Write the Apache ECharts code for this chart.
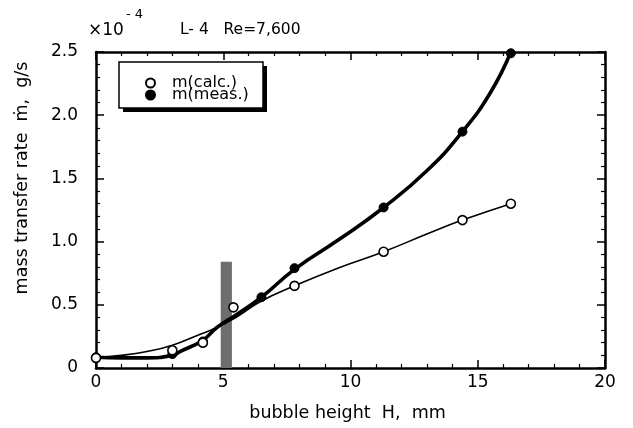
<!DOCTYPE html>
<html>
<head>
<meta charset="utf-8">
<script src="https://cdn.jsdelivr.net/npm/echarts@6/dist/echarts.min.js"></script>
<style>
html,body{margin:0;padding:0;background:#fff;}
#c{width:633px;height:428px;}
</style>
</head>
<body>
<div id="c"></div>
<script>
// ---- data ----
var calcH = [0, 3.0, 4.2, 5.4, 7.8, 11.3, 14.4, 16.3];
var calcM = [0.08, 0.14, 0.20, 0.48, 0.65, 0.92, 1.17, 1.30];
var measH = [0, 3.0, 4.2, 6.5, 7.8, 11.3, 14.4, 16.3];
var measM = [0.085, 0.11, 0.21, 0.56, 0.79, 1.27, 1.87, 2.49];
// hand-drawn fit curves as seen on the picture
var calcFitH = [0, 1, 2, 3, 4, 4.75, 5.5, 6.5, 7.8, 9.5, 11.3, 13, 14.4, 16.3];
var calcFitM = [0.085, 0.10, 0.13, 0.18, 0.26, 0.32, 0.40, 0.53, 0.65, 0.79, 0.92, 1.06, 1.17, 1.30];
var measFitH = [0, 1, 2, 3, 3.3, 4.2, 4.75, 5.5, 6.5, 7.8, 9.5, 11.3, 13, 14.4, 15.5, 16.3];
var measFitM = [0.085, 0.08, 0.08, 0.10, 0.13, 0.22, 0.32, 0.42, 0.56, 0.78, 1.01, 1.27, 1.56, 1.87, 2.18, 2.50];
// shaded band near H = 5 mm
var bandH = [4.9, 5.34];
var bandTop = 0.84;
var xTickLabels = ['0', '5', '10', '15', '20'];
var yTickLabels = ['0', '0.5', '1.0', '1.5', '2.0', '2.5'];
var seriesNames = ['m(calc.)', 'm(meas.)'];

function zip(a, b) { return a.map(function (v, i) { return [v, b[i]]; }); }

var FONT = 'DejaVu Sans';
var chart = echarts.init(document.getElementById('c'), null, {renderer: 'canvas'});

function axisCommon(showLabel, isX, pos) {
  return {
    type: 'value',
    position: pos,
    min: 0,
    max: isX ? 20 : 2.5,
    interval: isX ? 5 : 0.5,
    axisLine: {show: true, onZero: false, lineStyle: {color: '#000', width: 2.5}},
    axisTick: {show: true, inside: true, length: 8, lineStyle: {color: '#000', width: 1.5}},
    minorTick: {show: true, splitNumber: 5, length: 4, lineStyle: {color: '#000', width: 1.2}},
    splitLine: {show: false},
    minorSplitLine: {show: false},
    axisLabel: {
      show: showLabel,
      color: '#000',
      fontFamily: FONT,
      fontSize: 17,
      margin: isX ? 6 : 18,
      formatter: function (v) {
        var idx = Math.round(v / (isX ? 5 : 0.5));
        return (isX ? xTickLabels : yTickLabels)[idx];
      }
    }
  };
}

var xBottom = axisCommon(true, true, 'bottom');
xBottom.name = 'bubble height  H,  mm';
xBottom.nameLocation = 'middle';
xBottom.nameGap = 36;
xBottom.nameTextStyle = {color: '#000', fontFamily: FONT, fontSize: 17.5, padding: [0, 6, 0, 0]};
var xTop = axisCommon(false, true, 'top');
var yLeft = axisCommon(true, false, 'left');
var yRight = axisCommon(false, false, 'right');

var option = {
  animation: false,
  backgroundColor: '#fff',
  grid: {left: 96, right: 28, top: 52, bottom: 60, containLabel: false},
  xAxis: [xBottom, xTop],
  yAxis: [yLeft, yRight],
  legend: {
    data: seriesNames,
    orient: 'vertical',
    left: 119,
    top: 62,
    z: 20,
    padding: [13, 16, 7, 26],
    itemGap: -4,
    itemWidth: 9,
    itemHeight: 9,
    textStyle: {color: '#000', fontFamily: FONT, fontSize: 16, lineHeight: 12, padding: [0, 0, 0, 12]}
  },
  graphic: [
    {type: 'rect', z: 15, shape: {x: 123, y: 66, width: 144, height: 46}, style: {fill: '#000'}},
    {type: 'rect', z: 16, shape: {x: 119, y: 62, width: 144, height: 46},
      style: {fill: '#fff', stroke: '#000', lineWidth: 1.5}},
    {type: 'text', left: 88, top: 22, style: {text: '\u00D710', fill: '#000', font: '17px "DejaVu Sans"'}},
    {type: 'text', left: 126, top: 8, style: {text: '- 4', fill: '#000', font: '13px "DejaVu Sans"'}},
    {type: 'text', left: 180, top: 22, style: {text: 'L- 4   Re=7,600', fill: '#000', font: '15.5px "DejaVu Sans"'}},
    {type: 'text', x: 22, y: 178, rotation: Math.PI / 2,
      style: {text: 'mass transfer rate  \u1E41,  g/s', fill: '#000', font: '17.5px "DejaVu Sans"',
        textAlign: 'center', textVerticalAlign: 'middle'}}
  ],
  series: [
    {
      name: 'band', type: 'line', data: [], silent: true, z: 1,
      markArea: {
        silent: true,
        itemStyle: {color: '#6e6e6e', opacity: 1},
        data: [[{xAxis: bandH[0], yAxis: 0}, {xAxis: bandH[1], yAxis: bandTop}]]
      }
    },
    {
      name: 'calcFit', type: 'line', smooth: 0.5, showSymbol: false, symbol: 'none', z: 3,
      lineStyle: {color: '#000', width: 1.6},
      data: zip(calcFitH, calcFitM)
    },
    {
      name: 'measFit', type: 'line', smooth: 0.5, showSymbol: false, symbol: 'none', z: 3,
      lineStyle: {color: '#000', width: 3.6},
      data: zip(measFitH, measFitM)
    },
    {
      name: seriesNames[1], type: 'scatter', symbol: 'circle', symbolSize: 9, z: 5,
      itemStyle: {color: '#000', borderColor: '#000', borderWidth: 1, opacity: 1},
      data: zip(measH, measM)
    },
    {
      name: seriesNames[0], type: 'scatter', symbol: 'circle', symbolSize: 9, z: 6,
      itemStyle: {color: '#fff', borderColor: '#000', borderWidth: 1.6, opacity: 1},
      data: zip(calcH, calcM)
    }
  ]
};
chart.setOption(option);
</script>
</body>
</html>
